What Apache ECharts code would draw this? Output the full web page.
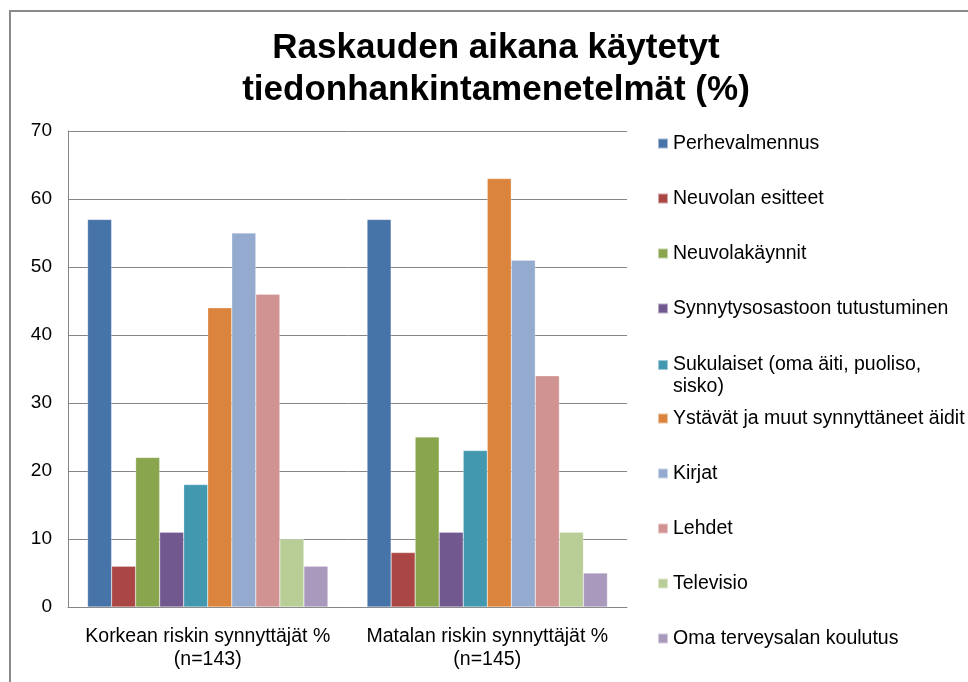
<!DOCTYPE html>
<html>
<head>
<meta charset="utf-8">
<script src="https://cdn.jsdelivr.net/npm/echarts@6/dist/echarts.min.js"></script>
<style>
  html, body { margin: 0; padding: 0; background: #fff; }
  #chart { width: 968px; height: 682px; }
</style>
</head>
<body>
<div id="chart"></div>
<script>
const categories = ['Korkean riskin synnyttäjät %\n(n=143)', 'Matalan riskin synnyttäjät %\n(n=145)']
const seriesNames = [
  'Perhevalmennus',
  'Neuvolan esitteet',
  'Neuvolakäynnit',
  'Synnytysosastoon tutustuminen',
  'Sukulaiset (oma äiti, puoliso, sisko)',
  'Ystävät ja muut synnyttäneet äidit',
  'Kirjat',
  'Lehdet',
  'Televisio',
  'Oma terveysalan koulutus'
]
// values per series: [korkea riski, matala riski]
const perhevalmennus = [57, 57]
const neuvolanEsitteet = [6, 8]
const neuvolakaynnit = [22, 25]
const synnytysosasto = [11, 11]
const sukulaiset = [18, 23]
const ystavat = [44, 63]
const kirjat = [55, 51]
const lehdet = [46, 34]
const televisio = [10, 11]
const omaKoulutus = [6, 5]
const seriesValues = [perhevalmennus, neuvolanEsitteet, neuvolakaynnit, synnytysosasto,
  sukulaiset, ystavat, kirjat, lehdet, televisio, omaKoulutus]
const colors = ['#4673A8', '#AA4744', '#89A54E', '#71598F', '#4298AF',
  '#DB843D', '#95AACF', '#D19292', '#B9CD96', '#A99ABD']

const font = '"Liberation Sans", Arial, sans-serif'
const chart = echarts.init(document.getElementById('chart'))

const legendBase = {
  orient: 'vertical',
  left: 657,
  padding: 0,
  itemWidth: 10,
  itemHeight: 10,
  itemGap: 34,
  icon: 'rect',
  selectedMode: false,
  textStyle: { fontFamily: font, fontSize: 19.5, lineHeight: 21, color: '#000' }
}

const option = {
  backgroundColor: '#fff',
  color: colors,
  textStyle: { fontFamily: font },
  title: {
    text: 'Raskauden aikana käytetyt\ntiedonhankintamenetelmät (%)',
    left: 491,
    top: 22,
    padding: 5,
    textAlign: 'center',
    textStyle: { fontFamily: font, fontSize: 35, fontWeight: 'bold', lineHeight: 42, color: '#000' }
  },
  graphic: [{
    type: 'rect',
    shape: { x: 10, y: 11, width: 1000, height: 1000 },
    style: { fill: 'none', stroke: '#8a8a8a', lineWidth: 2 },
    silent: true
  }],
  legend: [
    Object.assign({}, legendBase, {
      top: 133,
      data: seriesNames.slice(0, 4)
    }),
    // two-line entry: blank first line keeps the marker level with the first text line
    Object.assign({}, legendBase, {
      top: 332,
      data: [seriesNames[4]],
      formatter: () => '\u00a0\nSukulaiset (oma äiti, puoliso,\nsisko)',
      textStyle: { fontFamily: font, fontSize: 19.5, lineHeight: 22, color: '#000' }
    }),
    Object.assign({}, legendBase, {
      top: 408,
      data: seriesNames.slice(5)
    })
  ],
  grid: { left: 68, right: 341, top: 131, bottom: 75 },
  xAxis: {
    type: 'category',
    data: categories,
    axisLine: { lineStyle: { color: '#868686', width: 1 } },
    axisTick: { show: false },
    axisLabel: { interval: 0, fontFamily: font, fontSize: 19.5, lineHeight: 23, color: '#000', margin: 18 }
  },
  yAxis: {
    type: 'value',
    min: 0,
    max: 70,
    interval: 10,
    axisLine: { show: true, lineStyle: { color: '#868686', width: 1 } },
    axisTick: { show: false },
    axisLabel: { fontFamily: font, fontSize: 19, color: '#000', margin: 16 },
    splitLine: { lineStyle: { color: '#868686', width: 1 } }
  },
  series: seriesNames.map((name, i) => ({
    name,
    type: 'bar',
    data: seriesValues[i],
    barGap: '0%',
    barCategoryGap: '14%',
    itemStyle: { color: colors[i], borderColor: 'rgba(255,255,255,0.5)', borderWidth: 0.5 }
  }))
}

chart.setOption(option)
</script>
</body>
</html>
